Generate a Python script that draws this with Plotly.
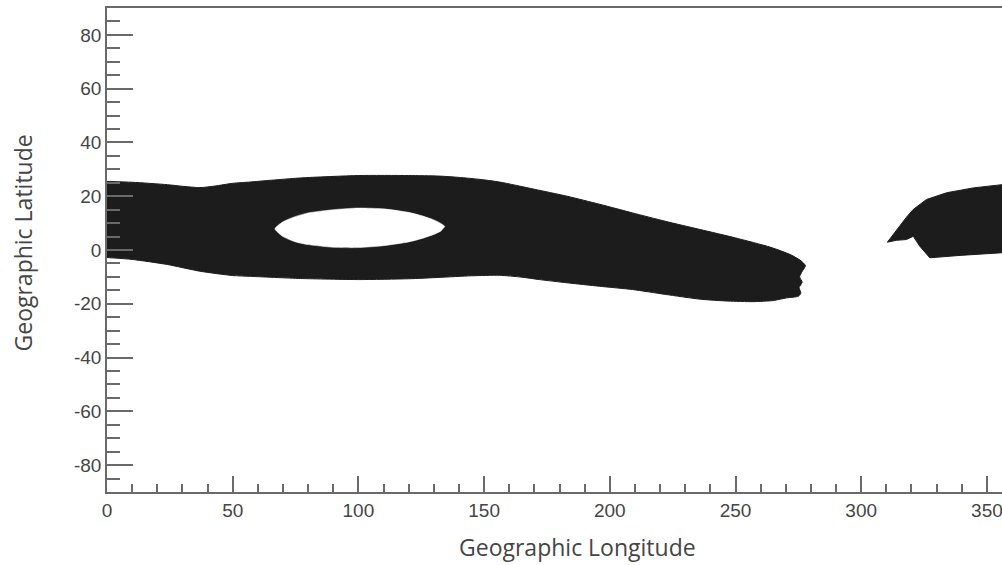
import plotly.graph_objects as go

# ---- data (geographic lon / lat boundaries of the covered region) ----
band_top_lon = [0, 10, 24, 30, 37, 43, 50, 57, 77, 100, 120, 132, 140, 148, 156, 170, 183, 196, 209, 222, 236, 250, 264, 272, 276, 277.8]
band_top_lat = [25.5, 25.2, 24.3, 23.7, 23.2, 23.8, 24.8, 25.3, 26.8, 27.7, 27.7, 27.5, 27.0, 26.3, 25.3, 22.6, 20.0, 17.0, 13.8, 10.7, 7.6, 4.5, 1.0, -1.8, -4.0, -5.8]

band_edge_lon = [276.5, 275.5, 276.5, 275.3, 276.0, 275.0]
band_edge_lat = [-8.0, -10.0, -12.0, -14.0, -16.0, -17.2]

band_bot_lon = [0, 10, 24, 37, 50, 57, 77, 100, 120, 132, 145, 156, 165, 172, 183, 196, 209, 222, 236, 247, 257, 265, 270.4]
band_bot_lat = [-2.8, -3.5, -5.4, -7.9, -9.5, -9.8, -10.6, -11.0, -10.7, -10.2, -9.6, -9.4, -10.1, -11.0, -12.2, -13.5, -14.7, -16.5, -18.3, -19.0, -19.2, -18.8, -17.8]

hole_top_lon = [66.8, 70, 75, 80, 90, 100, 110, 120, 125, 130, 133, 134.4]
hole_top_lat = [7.9, 10.5, 12.5, 13.8, 15.0, 15.6, 15.3, 14.0, 12.8, 11.2, 9.8, 8.8]
hole_bot_lon = [66.8, 70, 75, 80, 90, 100, 110, 120, 125, 130, 133, 134.4]
hole_bot_lat = [7.9, 5.0, 3.0, 2.0, 1.0, 0.9, 1.6, 3.0, 4.2, 5.8, 7.2, 8.8]

blob_top_lon = [310.4, 312.5, 315.4, 318, 320.7, 326, 334, 344.6, 356, 360]
blob_top_lat = [2.9, 5.5, 8.8, 12.2, 15.1, 18.8, 21.3, 23.1, 24.3, 24.6]
blob_bot_lon = [310.4, 314, 318, 320.7, 323.3, 325.5, 327.3, 339.3, 356, 360]
blob_bot_lat = [2.9, 3.6, 3.9, 5.1, 1.4, -1.0, -2.9, -2.0, -1.0, -0.8]

x_ticks = [0, 50, 100, 150, 200, 250, 300, 350]
y_ticks = [-80, -60, -40, -20, 0, 20, 40, 60, 80]

INK = "#1c1c1c"
AX = "#6a6a6a"
TXT = "#454545"

fig = go.Figure()

# main band polygon
main_x = band_top_lon + band_edge_lon + band_bot_lon[::-1]
main_y = band_top_lat + band_edge_lat + band_bot_lat[::-1]
fig.add_trace(go.Scatter(x=main_x, y=main_y, mode="lines", fill="toself",
                         fillcolor=INK, line=dict(color=INK, width=1, shape="spline", smoothing=0.6),
                         hoverinfo="skip", showlegend=False))

# hole inside band
hole_x = hole_top_lon + hole_bot_lon[::-1]
hole_y = hole_top_lat + hole_bot_lat[::-1]
fig.add_trace(go.Scatter(x=hole_x, y=hole_y, mode="lines", fill="toself",
                         fillcolor="white", line=dict(color="white", width=0.5, shape="spline", smoothing=0.6),
                         hoverinfo="skip", showlegend=False))

# right-hand blob
blob_x = blob_top_lon + blob_bot_lon[::-1]
blob_y = blob_top_lat + blob_bot_lat[::-1]
fig.add_trace(go.Scatter(x=blob_x, y=blob_y, mode="lines", fill="toself",
                         fillcolor=INK, line=dict(color=INK, width=1),
                         hoverinfo="skip", showlegend=False))

tickfont = dict(family="Liberation Sans, Arial, sans-serif", size=19, color=TXT)

fig.update_layout(
    width=1002, height=565,
    margin=dict(l=107, r=0, t=8, b=73),
    paper_bgcolor="white", plot_bgcolor="white",
    showlegend=False,
    xaxis=dict(range=[0, 356], tickvals=x_ticks, ticktext=[str(v) for v in x_ticks],
               ticks="inside", ticklen=16, tickwidth=1.5, tickcolor=AX,
               minor=dict(dtick=10, tick0=0, ticks="inside", ticklen=8, tickwidth=1.5, tickcolor=AX, showgrid=False),
               showline=True, linecolor=AX, linewidth=1.5, mirror=True,
               showgrid=False, zeroline=False, tickfont=tickfont, fixedrange=True,
               ticklabeloverflow="allow"),
    yaxis=dict(range=[-90, 90], tickvals=y_ticks, ticktext=[str(v) for v in y_ticks],
               ticks="inside", ticklen=26, tickwidth=1.5, tickcolor=AX,
               minor=dict(dtick=5, tick0=0, ticks="inside", ticklen=13, tickwidth=1.5, tickcolor=AX, showgrid=False),
               showline=True, linecolor=AX, linewidth=1.5, mirror=False,
               showgrid=False, zeroline=False, tickfont=tickfont, fixedrange=True),
    annotations=[
        dict(text="Geographic Longitude", xref="paper", yref="paper",
             x=(577.5 - 107) / 895, y=(492 - 547) / 484, xanchor="center", yanchor="middle",
             showarrow=False, font=dict(family="Open Sans, sans-serif", size=23, color=TXT)),
        dict(text="Geographic Latitude", xref="paper", yref="paper",
             x=(23 - 107) / 895, y=(492 - 243.5) / 484, xanchor="center", yanchor="middle",
             textangle=-90, showarrow=False, font=dict(family="Open Sans, sans-serif", size=23, color=TXT)),
    ],
)

fig.write_html("out.html")
